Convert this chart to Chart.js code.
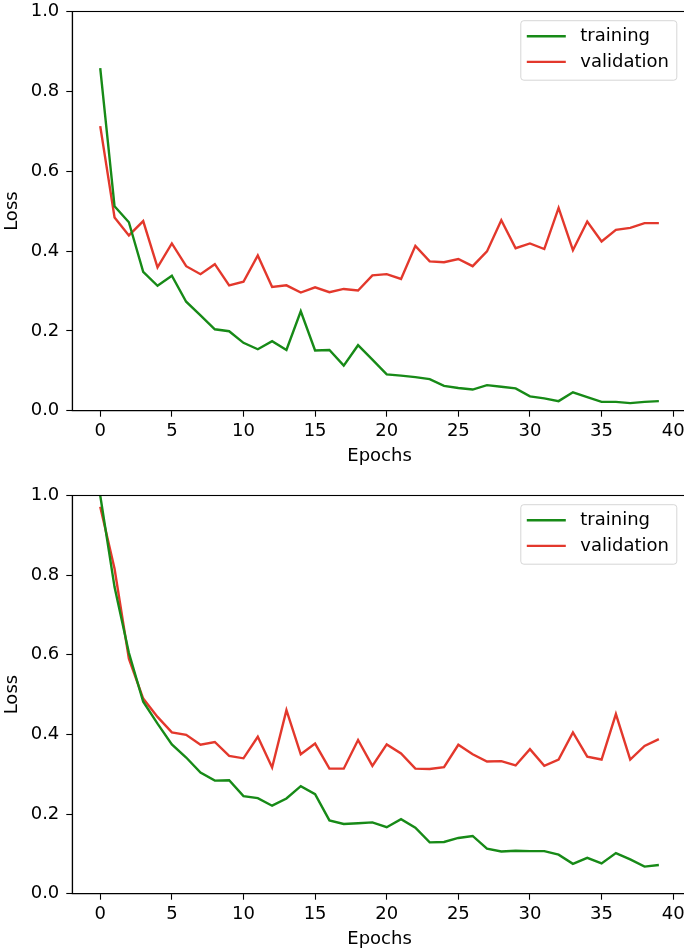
<!DOCTYPE html>
<html>
<head>
<meta charset="utf-8">
<script src="https://cdn.jsdelivr.net/npm/chart.js@4/dist/chart.umd.min.js"></script>
<style>
  html, body { margin: 0; padding: 0; background: #fff; overflow: hidden; width: 684px; height: 951px; }
  .wrap { position: absolute; left: 0; width: 700px; }
  #w1 { top: 0; height: 475px; }
  #w2 { top: 484px; height: 467px; }
</style>
</head>
<body>
<div class="wrap" id="w1"><canvas id="c1" width="700" height="475"></canvas></div>
<div class="wrap" id="w2"><canvas id="c2" width="700" height="467"></canvas></div>
<script>
// ---- data ----
const epochs = Array.from({length: 40}, (_, i) => i);
const xTickValues = [0, 5, 10, 15, 20, 25, 30, 35, 40];
const yTickValues = [0.0, 0.2, 0.4, 0.6, 0.8, 1.0];
const seriesNames = ['training', 'validation'];
const xTitle = 'Epochs';
const yTitle = 'Loss';

const trainTop = [0.858, 0.512, 0.472, 0.348, 0.313, 0.338, 0.273, 0.239, 0.204, 0.199,
                  0.170, 0.154, 0.174, 0.152, 0.249, 0.151, 0.152, 0.113, 0.164, 0.128,
                  0.091, 0.088, 0.084, 0.079, 0.062, 0.057, 0.053, 0.064, 0.060, 0.056,
                  0.036, 0.031, 0.024, 0.046, 0.034, 0.022, 0.022, 0.019, 0.022, 0.024];
const valTop   = [0.713, 0.484, 0.439, 0.475, 0.359, 0.419, 0.362, 0.342, 0.367, 0.314,
                  0.323, 0.389, 0.310, 0.314, 0.296, 0.309, 0.297, 0.305, 0.301, 0.339,
                  0.342, 0.330, 0.413, 0.374, 0.372, 0.380, 0.362, 0.399, 0.477, 0.407,
                  0.419, 0.405, 0.508, 0.402, 0.474, 0.424, 0.453, 0.458, 0.470, 0.470];

const trainBottom = [1.000, 0.770, 0.605, 0.482, 0.427, 0.375, 0.342, 0.304, 0.284, 0.285,
                     0.245, 0.240, 0.221, 0.239, 0.270, 0.250, 0.184, 0.175, 0.177, 0.179,
                     0.167, 0.187, 0.166, 0.129, 0.130, 0.140, 0.145, 0.113, 0.106, 0.108,
                     0.107, 0.107, 0.098, 0.075, 0.090, 0.076, 0.102, 0.086, 0.068, 0.072];
const valBottom   = [0.972, 0.816, 0.590, 0.490, 0.444, 0.405, 0.399, 0.374, 0.381, 0.346,
                     0.340, 0.394, 0.317, 0.461, 0.350, 0.377, 0.314, 0.314, 0.386, 0.321,
                     0.375, 0.352, 0.314, 0.313, 0.318, 0.374, 0.350, 0.332, 0.333, 0.322,
                     0.363, 0.321, 0.337, 0.405, 0.344, 0.337, 0.451, 0.337, 0.371, 0.388];

// ---- styles ----
const GREEN = '#178a17';
const RED = '#e3382c';
const FONT = "'DejaVu Sans', sans-serif";
const FS = 18;

const framePlugin = {
  id: 'frame',
  afterDraw(chart) {
    const {ctx, chartArea: a} = chart;
    ctx.save();
    ctx.strokeStyle = '#000';
    ctx.lineWidth = 1.1;
    ctx.strokeRect(a.left, a.top, a.right - a.left, a.bottom - a.top);
    ctx.restore();
  }
};

const boxLegendPlugin = {
  id: 'boxLegend',
  afterDraw(chart) {
    const {ctx, chartArea: a} = chart;
    const ds = chart.data.datasets;
    const w = 156, h = 59.5, r = 3;
    const x = a.right - 10 - w, y = a.top + 9.2;
    ctx.save();
    ctx.beginPath();
    ctx.moveTo(x + r, y);
    ctx.lineTo(x + w - r, y); ctx.arcTo(x + w, y, x + w, y + r, r);
    ctx.lineTo(x + w, y + h - r); ctx.arcTo(x + w, y + h, x + w - r, y + h, r);
    ctx.lineTo(x + r, y + h); ctx.arcTo(x, y + h, x, y + h - r, r);
    ctx.lineTo(x, y + r); ctx.arcTo(x, y, x + r, y, r);
    ctx.closePath();
    ctx.fillStyle = 'rgba(255,255,255,0.8)';
    ctx.fill();
    ctx.strokeStyle = 'rgba(204,204,204,0.8)';
    ctx.lineWidth = 1;
    ctx.stroke();
    ctx.font = FS + 'px ' + FONT;
    ctx.textBaseline = 'middle';
    ctx.textAlign = 'left';
    ds.forEach((d, i) => {
      const yy = y + 15.5 + i * 25.7;
      ctx.beginPath();
      ctx.strokeStyle = d.borderColor;
      ctx.lineWidth = d.borderWidth;
      ctx.moveTo(x + 6, yy);
      ctx.lineTo(x + 45, yy);
      ctx.stroke();
      ctx.fillStyle = '#000';
      ctx.fillText(d.label, x + 59.5, yy);
    });
    ctx.restore();
  }
};

function makeChart(id, train, val, padBottom, xHeight) {
  const toPts = arr => epochs.map((e, i) => ({x: e, y: arr[i]}));
  return new Chart(document.getElementById(id), {
    type: 'line',
    data: {
      datasets: [
        {label: seriesNames[0], data: toPts(train), borderColor: GREEN, backgroundColor: GREEN,
         borderWidth: 2.4, pointRadius: 0, tension: 0, fill: false},
        {label: seriesNames[1], data: toPts(val), borderColor: RED, backgroundColor: RED,
         borderWidth: 2.4, pointRadius: 0, tension: 0, fill: false}
      ]
    },
    options: {
      responsive: false,
      animation: false,
      devicePixelRatio: 1,
      layout: {padding: {left: 0, top: 11.5, right: 13.2, bottom: padBottom}},
      plugins: {legend: {display: false}, tooltip: {enabled: false}},
      scales: {
        x: {
          type: 'linear', min: -1.95, max: 40.95,
          afterBuildTicks: s => { s.ticks = xTickValues.map(v => ({value: v})); },
          afterFit: s => { s.height = xHeight; s.paddingLeft = 0; s.paddingRight = 0; },
          ticks: {font: {family: FONT, size: FS}, color: '#000', padding: 4, maxRotation: 0,
                  callback: v => String(v)},
          grid: {drawOnChartArea: false, drawTicks: true, tickLength: 6, tickColor: '#000', tickWidth: 1.1},
          border: {display: true, color: '#000', width: 1.1},
          title: {display: true, text: xTitle, font: {family: FONT, size: FS}, color: '#000',
                  padding: {top: 0, bottom: 0}}
        },
        y: {
          type: 'linear', min: 0, max: 1,
          afterBuildTicks: s => { s.ticks = yTickValues.map(v => ({value: v})); },
          afterFit: s => { s.width = 72.3; s.paddingTop = 0; s.paddingBottom = 0; },
          ticks: {font: {family: FONT, size: FS}, color: '#000', padding: 7,
                  callback: v => Number(v).toFixed(1)},
          grid: {drawOnChartArea: false, drawTicks: true, tickLength: 6, tickColor: '#000', tickWidth: 1.1},
          border: {display: true, color: '#000', width: 1.1},
          title: {display: true, text: yTitle, font: {family: FONT, size: FS}, color: '#000',
                  padding: {top: 2, bottom: 0}}
        }
      }
    },
    plugins: [framePlugin, boxLegendPlugin]
  });
}

makeChart('c1', trainTop, valTop, 7.8, 56.5);
makeChart('c2', trainBottom, valBottom, 0.8, 56.5);
</script>
</body>
</html>
